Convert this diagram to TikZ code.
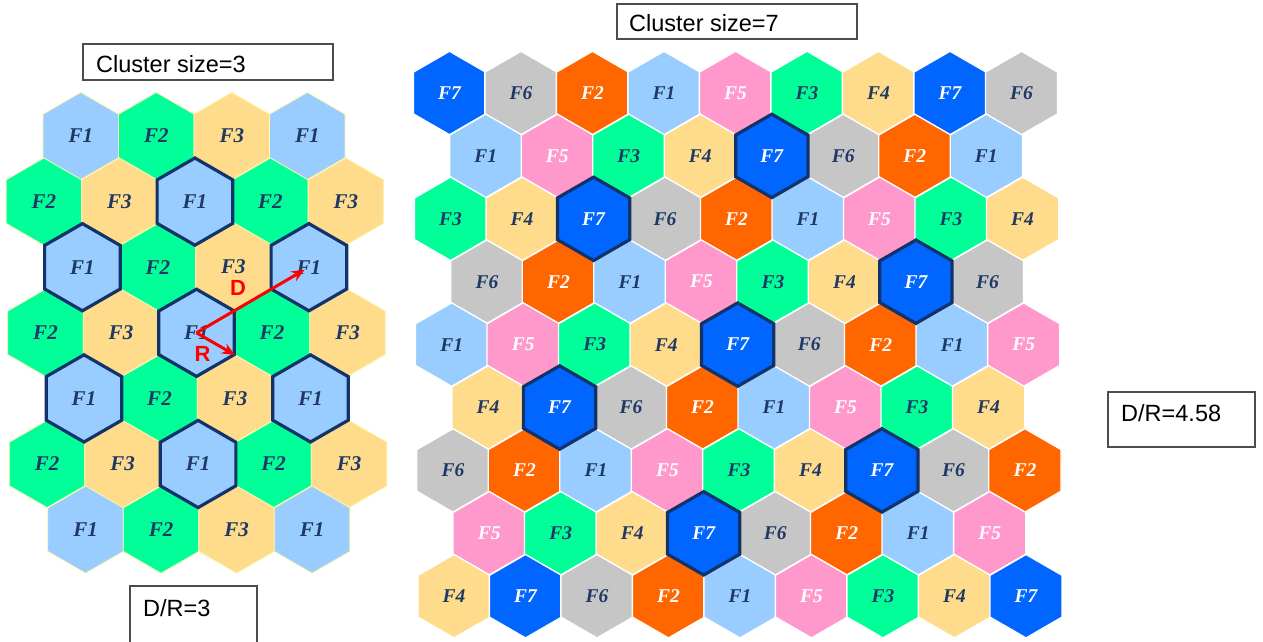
\documentclass[tikz,border=0pt]{standalone}
\usepackage{fontspec}
\setmainfont{Liberation Serif}
\setsansfont{Liberation Sans}
\usetikzlibrary{shapes.geometric,arrows.meta}

\definecolor{fone}{HTML}{99CCFF}
\definecolor{forange}{HTML}{FF6600}
\definecolor{fgreen}{HTML}{00FF99}
\definecolor{fyellow}{HTML}{FFDC8C}
\definecolor{fgray}{HTML}{C6C6C6}
\definecolor{fpink}{HTML}{FF99CC}
\definecolor{fblue}{HTML}{0066FF}
\definecolor{navy}{HTML}{12336A}
\definecolor{labnavy}{HTML}{1F3864}
\definecolor{edgeyel}{HTML}{FFF6B0}
\definecolor{boxgray}{HTML}{4D4D4D}

\tikzset{
  lcell/.style={regular polygon, regular polygon sides=6, shape border rotate=30,
    minimum size=87.2pt, inner sep=0pt, draw=edgeyel, line width=0.8pt,
    text=labnavy, font=\bfseries\itshape\fontsize{21}{22}\selectfont},
  lone/.style={lcell, fill=fone},
  ltwo/.style={lcell, fill=fgreen},
  lthree/.style={lcell, fill=fyellow},
  rcell/.style={regular polygon, regular polygon sides=6, shape border rotate=30,
    minimum size=83.4pt, inner sep=0pt, draw=white, line width=1.3pt,
    text=labnavy, font=\bfseries\itshape\fontsize{19.5}{21}\selectfont},
  rone/.style={rcell, fill=fone},
  rtwo/.style={rcell, fill=forange, text=white},
  rthree/.style={rcell, fill=fgreen},
  rfour/.style={rcell, fill=fyellow},
  rfive/.style={rcell, fill=fpink, text=white},
  rsix/.style={rcell, fill=fgray},
  rseven/.style={rcell, fill=fblue, text=white},
  cochan/.style={draw=navy, line width=3.2pt},
  redarrow/.style={draw=red, line width=3pt, -{Stealth[length=13pt,width=11pt]}},
  redlab/.style={text=red, inner sep=0pt, font=\sffamily\bfseries\fontsize{22}{24}\selectfont},
  boxtext/.style={anchor=base west, inner sep=0pt, font=\sffamily\fontsize{23.5}{26}\selectfont},
  infobox/.style={draw=boxgray, line width=1.2pt}
}

\begin{document}
\begin{tikzpicture}[x=1pt, y=-1pt]
\useasboundingbox (0,0) rectangle (1263,642);

% cluster size 3
\node[lone] (a11) at (80.8,136) {F1};
\node[ltwo] (a12) at (156.3,136) {F2};
\node[lthree] (a13) at (231.8,136) {F3};
\node[lone] (a14) at (307.3,136) {F1};
\node[ltwo] (a21) at (43.9,201.6) {F2};
\node[lthree] (a22) at (119.4,201.6) {F3};
\node[ltwo] (a24) at (270.4,201.6) {F2};
\node[lthree] (a25) at (345.9,201.6) {F3};
\node[ltwo] (a32) at (157.9,267.2) {F2};
\node[lthree] (a33) at (233.4,266.2) {F3};
\node[ltwo] (a41) at (45.5,332.8) {F2};
\node[lthree] (a42) at (121.0,332.8) {F3};
\node[ltwo] (a44) at (272.0,332.8) {F2};
\node[lthree] (a45) at (347.5,332.8) {F3};
\node[ltwo] (a52) at (159.5,398.4) {F2};
\node[lthree] (a53) at (235.0,398.4) {F3};
\node[ltwo] (a61) at (47.1,464) {F2};
\node[lthree] (a62) at (122.6,464) {F3};
\node[ltwo] (a64) at (273.6,464) {F2};
\node[lthree] (a65) at (349.1,464) {F3};
\node[lone] (a71) at (85.6,529.6) {F1};
\node[ltwo] (a72) at (161.1,529.6) {F2};
\node[lthree] (a73) at (236.6,529.6) {F3};
\node[lone] (a74) at (312.1,529.6) {F1};
% co-channel F1 cells
\node[lone,cochan] (a23) at (194.9,201.6) {F1};
\node[lone,cochan] (a31) at (82.4,267.2) {F1};
\node[lone,cochan] (a34) at (308.9,267.2) {F1};
\node[lone,cochan] (a43) at (196.5,332.8) {F1};
\node[lone,cochan] (a51) at (84.0,398.4) {F1};
\node[lone,cochan] (a54) at (310.5,398.4) {F1};
\node[lone,cochan] (a63) at (198.1,464) {F1};

\draw[redarrow, shorten >=5pt] (a43.center) -- (a34.center);
\draw[redarrow, shorten >=1pt] (a43.center) -- (a43.-30);
\node[redlab] (dlab) at (238,287.5) {D};
\node[redlab] (rlab) at (202.5,354) {R};

% cluster size 7
\node[rseven] (b11) at (449.5,93) {F7};
\node[rsix] (b12) at (521.0,93) {F6};
\node[rtwo] (b13) at (592.5,93) {F2};
\node[rone] (b14) at (664.0,93) {F1};
\node[rfive] (b15) at (735.5,93) {F5};
\node[rthree] (b16) at (807.0,93) {F3};
\node[rfour] (b17) at (878.5,93) {F4};
\node[rseven] (b18) at (950.0,93) {F7};
\node[rsix] (b19) at (1021.5,93) {F6};
\node[rone] (b21) at (485.8,155.9) {F1};
\node[rfive] (b22) at (557.3,155.9) {F5};
\node[rthree] (b23) at (628.8,155.9) {F3};
\node[rfour] (b24) at (700.3,155.9) {F4};
\node[rsix] (b26) at (843.3,155.9) {F6};
\node[rtwo] (b27) at (914.8,155.9) {F2};
\node[rone] (b28) at (986.3,155.9) {F1};
\node[rthree] (b31) at (450.6,218.8) {F3};
\node[rfour] (b32) at (522.1,218.8) {F4};
\node[rsix] (b34) at (665.1,218.8) {F6};
\node[rtwo] (b35) at (736.6,218.8) {F2};
\node[rone] (b36) at (808.1,218.8) {F1};
\node[rfive] (b37) at (879.6,218.8) {F5};
\node[rthree] (b38) at (951.1,218.8) {F3};
\node[rfour] (b39) at (1022.6,218.8) {F4};
\node[rsix] (b41) at (486.9,281.7) {F6};
\node[rtwo] (b42) at (558.4,281.7) {F2};
\node[rone] (b43) at (629.9,281.7) {F1};
\node[rfive] (b44) at (701.4,281.7) {F5};
\node[rthree] (b45) at (772.9,281.7) {F3};
\node[rfour] (b46) at (844.4,281.7) {F4};
\node[rsix] (b48) at (987.4,281.7) {F6};
\node[rone] (b51) at (451.7,344.6) {F1};
\node[rfive] (b52) at (523.2,344.6) {F5};
\node[rthree] (b53) at (594.7,344.6) {F3};
\node[rfour] (b54) at (666.2,344.6) {F4};
\node[rsix] (b56) at (809.2,344.6) {F6};
\node[rtwo] (b57) at (880.7,344.6) {F2};
\node[rone] (b58) at (952.2,344.6) {F1};
\node[rfive] (b59) at (1023.7,344.6) {F5};
\node[rfour] (b61) at (488.1,407.5) {F4};
\node[rsix] (b63) at (631.1,407.5) {F6};
\node[rtwo] (b64) at (702.6,407.5) {F2};
\node[rone] (b65) at (774.1,407.5) {F1};
\node[rfive] (b66) at (845.6,407.5) {F5};
\node[rthree] (b67) at (917.1,407.5) {F3};
\node[rfour] (b68) at (988.6,407.5) {F4};
\node[rsix] (b71) at (452.9,470.4) {F6};
\node[rtwo] (b72) at (524.4,470.4) {F2};
\node[rone] (b73) at (595.9,470.4) {F1};
\node[rfive] (b74) at (667.4,470.4) {F5};
\node[rthree] (b75) at (738.9,470.4) {F3};
\node[rfour] (b76) at (810.4,470.4) {F4};
\node[rsix] (b78) at (953.4,470.4) {F6};
\node[rtwo] (b79) at (1024.9,470.4) {F2};
\node[rfive] (b81) at (489.2,533.3) {F5};
\node[rthree] (b82) at (560.7,533.3) {F3};
\node[rfour] (b83) at (632.2,533.3) {F4};
\node[rsix] (b85) at (775.2,533.3) {F6};
\node[rtwo] (b86) at (846.7,533.3) {F2};
\node[rone] (b87) at (918.2,533.3) {F1};
\node[rfive] (b88) at (989.7,533.3) {F5};
\node[rfour] (b91) at (454.0,596.2) {F4};
\node[rseven] (b92) at (525.5,596.2) {F7};
\node[rsix] (b93) at (597.0,596.2) {F6};
\node[rtwo] (b94) at (668.5,596.2) {F2};
\node[rone] (b95) at (740.0,596.2) {F1};
\node[rfive] (b96) at (811.5,596.2) {F5};
\node[rthree] (b97) at (883.0,596.2) {F3};
\node[rfour] (b98) at (954.5,596.2) {F4};
\node[rseven] (b99) at (1026.0,596.2) {F7};
% co-channel F7 cells
\node[rseven,cochan] (b25) at (771.8,155.9) {F7};
\node[rseven,cochan] (b33) at (593.6,218.8) {F7};
\node[rseven,cochan] (b47) at (915.9,281.7) {F7};
\node[rseven,cochan] (b55) at (737.7,344.6) {F7};
\node[rseven,cochan] (b62) at (559.6,407.5) {F7};
\node[rseven,cochan] (b77) at (881.9,470.4) {F7};
\node[rseven,cochan] (b84) at (703.7,533.3) {F7};

% text boxes
\draw[infobox] (83,44) rectangle (333,80);
\node[boxtext] (csthree) at (96,73) {Cluster size=3};
\draw[infobox] (617,4) rectangle (857,39);
\node[boxtext] (csseven) at (629,32) {Cluster size=7};
\draw[infobox] (130,643) -- (130,586) -- (257,586) -- (257,643);
\node[boxtext] (drthree) at (143,616) {D/R=3};
\draw[infobox] (1108,392) rectangle (1255,447);
\node[boxtext] (drseven) at (1121,421) {D/R=4.58};
\end{tikzpicture}
\end{document}
